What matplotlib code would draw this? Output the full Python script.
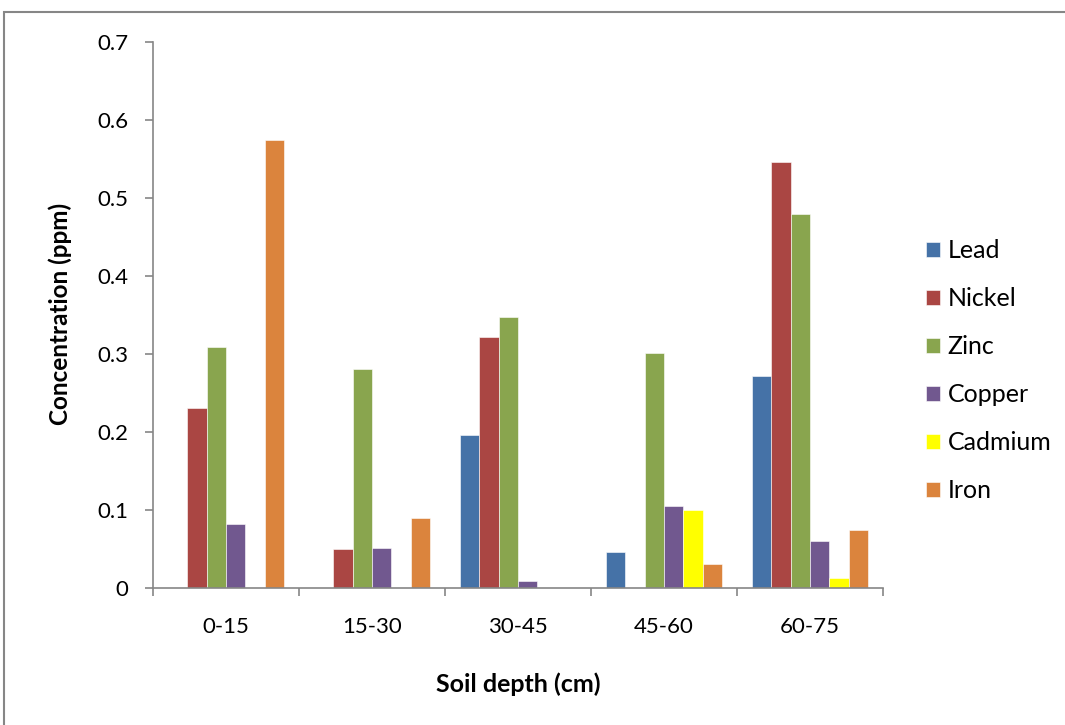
import numpy as np
import matplotlib
matplotlib.use("Agg")
import matplotlib.pyplot as plt
from matplotlib.patches import Rectangle

plt.rcParams['font.family'] = ['Lato', 'DejaVu Sans']

depths = ['0-15', '15-30', '30-45', '45-60', '60-75']
metals = ['Lead', 'Nickel', 'Zinc', 'Copper', 'Cadmium', 'Iron']
lead = [0.0, 0.0, 0.196, 0.045, 0.271]
nickel = [0.230, 0.049, 0.322, 0.0, 0.546]
zinc = [0.308, 0.281, 0.347, 0.301, 0.479]
copper = [0.082, 0.051, 0.008, 0.105, 0.060]
cadmium = [0.0, 0.0, 0.0, 0.099, 0.012]
iron = [0.574, 0.089, 0.0, 0.030, 0.074]
colors = ['#4572A7', '#AA4643', '#89A54E', '#71588F', '#FFFF00', '#DB843D']

series = [lead, nickel, zinc, copper, cadmium, iron]
axis_grey = '#868686'

fig = plt.figure(figsize=(10.65, 7.25), dpi=100)
ax = fig.add_axes([153 / 1065, 1 - 587.5 / 725, 730 / 1065, 545.5 / 725])

x = np.arange(len(depths))
w = 1 / 7.5
for i, (name, vals, c) in enumerate(zip(metals, series, colors)):
    ax.bar(x + (i - 2.5) * w, vals, width=w, color=c, label=name,
           edgecolor='white', linewidth=0.4)

ax.set_xlim(-0.5, len(depths) - 0.5)
ax.set_ylim(0, 0.7)
ax.set_yticks(np.arange(0, 0.71, 0.1))
ax.set_yticklabels(['0'] + ['%.1f' % v for v in np.arange(0.1, 0.71, 0.1)])
ax.set_xticks(x)
ax.set_xticklabels(depths)
ax.set_xticks(np.arange(-0.5, len(depths)), minor=True)

for s in ['top', 'right']:
    ax.spines[s].set_visible(False)
for s in ['left', 'bottom']:
    ax.spines[s].set_color(axis_grey)
    ax.spines[s].set_linewidth(1.2)

ax.tick_params(axis='y', direction='out', length=6, width=1.2, color=axis_grey,
               labelsize=16, pad=12)
ax.tick_params(axis='x', which='major', length=0, labelsize=16, pad=21)
ax.tick_params(axis='x', which='minor', direction='out', length=6, width=1.2,
               color=axis_grey)

fig.text(60 / 1065, 1 - 314 / 725, 'Concentration (ppm)', rotation=90,
         ha='center', va='center', fontsize=17.5, fontweight='bold')
fig.text(518 / 1065, 1 - 684 / 725, 'Soil depth (cm)', ha='center',
         va='center', fontsize=18, fontweight='bold')

fig.legend(loc='center left', bbox_to_anchor=(926 / 1065, 1 - 371 / 725),
           frameon=False, fontsize=18, borderpad=0, borderaxespad=0,
           handlelength=0.56, handleheight=0.56, handletextpad=0.3,
           labelspacing=1.0)

# outer chart frame
fig.patches.append(Rectangle((4 / 1065, -0.05), 1.1, 1 - 12 / 725 + 0.05,
                             transform=fig.transFigure, fill=False,
                             edgecolor=axis_grey, linewidth=1.5))

fig.savefig('out.png', dpi=100)
